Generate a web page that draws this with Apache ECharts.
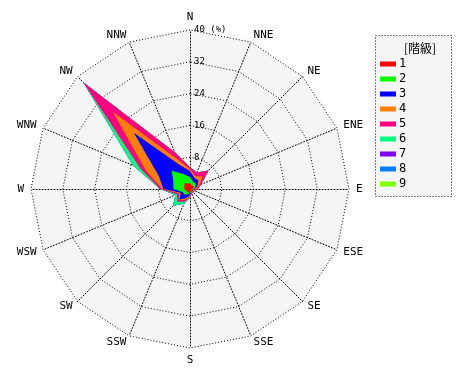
<!DOCTYPE html>
<html><head><meta charset="utf-8">
<script src="https://cdn.jsdelivr.net/npm/echarts@6/dist/echarts.min.js"></script>
<style>html,body{margin:0;padding:0;background:#fff}#c{width:470px;height:380px}</style>
</head><body><div id="c"></div>
<script>
// Directions, clockwise from north
const directions = ['N','NNE','NE','ENE','E','ESE','SE','SSE','S','SSW','SW','WSW','W','WNW','NW','NNW'];
const classNames = ['1','2','3','4','5','6','7','8','9'];
const classColors = ['#ff0000','#00ff00','#0000ff','#ff8000','#ff0080','#00ff80','#8000ff','#0080ff','#80ff00'];
const radialTicks = [0, 8, 16, 24, 32, 40];
// Frequency (%) of each class per direction (clockwise from N)
const class1 = [1.5,1.0,1.2,1.0,0.8,0.5,0.5,0.5,0.8,1.0,1.0,1.0,1.5,1.5,2.0,1.5];
const class2 = [1.5,1.0,0.8,0.5,0.2,0.2,0.2,0.2,0.2,0.5,1.0,1.0,2.7,3.0,4.5,2.5];
const class3 = [1.5,1.0,1.0,0.5,0.2,0.1,0.1,0.1,0.5,1.0,1.7,0.5,2.5,4.0,13.5,2.5];
const class4 = [0.5,0.5,1.5,0.5,0.3,0.2,0.2,0.2,0.3,0.5,0.3,0.5,0.3,3.5,7.5,1.5];
const class5 = [0.5,1.0,2.1,0.5,0.5,0.2,0.2,0.2,0.2,0.5,0.5,0.5,0.5,1.5,10.5,2.0];
const class6 = [0,0,0,0,0,0,0,0,0.2,0.5,1.5,0.5,0,2.0,0,0];
const class7 = [0,0,0,0,0,0,0,0,0,0,0,0,0,0,0,0];
const class8 = [0,0,0,0,0,0,0,0,0,0,0,0,0,0,0,0];
const class9 = [0,0,0,0,0,0,0,0,0,0,0,0,0,0,0,0];
const classValues = [class1,class2,class3,class4,class5,class6,class7,class8,class9];

// radar indicators go counter-clockwise: reorder
const order = [0]; for (let i = directions.length - 1; i >= 1; i--) order.push(i);
const cum = []; let run = directions.map(() => 0);
classValues.forEach(v => { run = run.map((s, i) => s + v[i]); cum.push(run.slice()); });

const font = 'DejaVu Sans Mono';
const dotted = [1, 2];
const series = [];
for (let k = classNames.length - 1; k >= 0; k--) {
  series.push({
    type: 'radar', name: classNames[k], symbol: 'none', silent: true,
    itemStyle: { color: classColors[k] },
    lineStyle: { width: 0 },
    areaStyle: { color: classColors[k], opacity: 1 },
    data: [{ value: order.map(i => cum[k][i]), name: classNames[k] }]
  });
}
const chart = echarts.init(document.getElementById('c'));
chart.setOption({
  animation: false,
  backgroundColor: '#fff',
  textStyle: { fontFamily: font },
  radar: {
    center: [190, 189], radius: 159, startAngle: 90, shape: 'polygon', splitNumber: 5,
    indicator: order.map(i => ({ name: directions[i], min: 0, max: 40 })),
    axisName: { color: '#000', fontSize: 11, fontFamily: font },
    nameGap: 7,
    axisLine: { lineStyle: { color: '#000', type: dotted, width: 1 } },
    splitLine: { lineStyle: { color: '#000', type: dotted, width: 1 } },
    splitArea: { areaStyle: { color: ['#f5f5f5'] } },
    z: 1
  },
  polar: { center: [190, 189], radius: 159 },
  angleAxis: { show: false, startAngle: 90, min: 0, max: 360 },
  radiusAxis: {
    min: radialTicks[0], max: radialTicks[radialTicks.length - 1], interval: 8, z: 20,
    axisLine: { show: false }, axisTick: { show: false }, splitLine: { show: false },
    axisLabel: { color: '#000', fontSize: 9, fontFamily: font, margin: -4, align: 'left', verticalAlign: 'middle',
      padding: [0, 0, 7, 0],
      formatter: v => v === 0 ? '' : (v === 40 ? '40 (%)' : String(v)) }
  },
  title: { text: '[階級]', left: 399, top: 37,
    textStyle: { fontSize: 12, fontWeight: 'normal', color: '#000', fontFamily: 'Noto Sans CJK JP' } },
  legend: {
    data: classNames, orient: 'vertical', left: 375, top: 53,
    itemWidth: 16, itemHeight: 5, itemGap: 3, icon: 'rect',
    textStyle: { fontSize: 12, lineHeight: 12, color: '#000', fontFamily: font, padding: [0, 0, 0, -2] }, selectedMode: false
  },
  graphic: [{ type: 'rect', left: 375, top: 35, shape: { width: 76, height: 161 },
    style: { fill: '#f5f5f5', stroke: '#000', lineWidth: 1, lineDash: [1, 2] }, z: -1 }],
  series: series
});
</script></body></html>
